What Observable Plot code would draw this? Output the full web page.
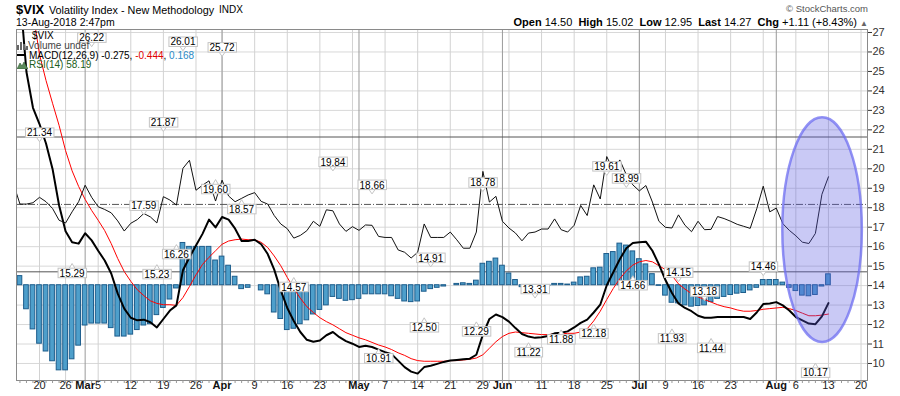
<!DOCTYPE html>
<html><head><meta charset="utf-8">
<script src="https://cdn.jsdelivr.net/npm/d3@7"></script>
<script src="https://cdn.jsdelivr.net/npm/@observablehq/plot@0.6"></script>
<style>
body{margin:0;background:#fff;font-family:"Liberation Sans",Arial,sans-serif;color:#000;}
#wrap{position:relative;width:900px;height:396px;overflow:hidden;background:#fff;}
#chart{position:absolute;left:0;top:0;}
#chart svg{display:block;}
.abs{position:absolute;white-space:nowrap;line-height:1;z-index:2;}
</style></head><body>
<div id="wrap">
  <div id="chart"></div>
  <div class="abs" style="left:16px;top:3px;font-size:13px;font-weight:bold">$VIX</div>
  <div class="abs" style="left:49px;top:4.5px;font-size:10.8px">Volatility Index - New Methodology</div>
  <div class="abs" style="left:219px;top:5px;font-size:10px">INDX</div>
  <div class="abs" style="left:16px;top:16.5px;font-size:10.5px">13-Aug-2018 2:47pm</div>
  <div class="abs" style="right:32px;top:4px;font-size:9.5px;color:#555">&#169; StockCharts.com</div>
  <div class="abs" style="right:32px;top:17px;font-size:11px"><b>Open</b> 14.50&nbsp; <b>High</b> 15.02&nbsp; <b>Low</b> 12.95&nbsp; <b>Last</b> 14.27&nbsp; <b>Chg</b> +1.11 (+8.43%) <span style="color:#666;font-size:8px">&#9650;</span></div>
  <div class="abs" style="left:32px;top:31px;font-size:10px">$VIX</div>
  <svg class="abs" style="left:17px;top:41px" width="11" height="9"><rect x="0" y="4" width="2" height="5" fill="#666"/><rect x="3" y="1" width="2" height="8" fill="#666"/><rect x="6" y="3" width="2" height="6" fill="#666"/><rect x="9" y="5" width="2" height="4" fill="#666"/></svg>
  <div class="abs" style="left:28px;top:41px;font-size:10px;color:#444">Volume undef</div>
  <svg class="abs" style="left:17px;top:53px" width="10" height="4"><rect x="0" y="1" width="9" height="2" fill="#000"/></svg>
  <div class="abs" style="left:29px;top:50.5px;font-size:10px">MACD(12,26,9) -0.275, <span style="color:#e00000">-0.444</span>, <span style="color:#2b8ac6">0.168</span></div>
  <svg class="abs" style="left:17px;top:61px" width="11" height="8"><path d="M0 8 L3 2 L5 5 L7 1 L11 8 Z" fill="#5b8a5b" stroke="#2d5a2d" stroke-width="0.6"/></svg>
  <div class="abs" style="left:29px;top:60px;font-size:10px;color:#1b5e20">RSI(14) 58.19</div>
</div>
<script>
// Trading-day index: 0 = Tue 20-Feb-2018 (one step per trading day)
const firstIdx = -4;
const rsi = [
 56.2, 50.1, 50.1, 50.5, 52.1, 50.8, 48.8, 45.3, 44.5, 47.8,
 50.8, 55.7, 52.1, 49.3, 48.5, 47.5, 45.1, 42.1, 44.4, 45.5,
 47.3, 46.3, 44.5, 52.3, 51.3, 49.8, 60.7, 63.1, 54.2, 55.7,
 57.0, 51.0, 57.2, 52.5, 50.8, 51.8, 52.8, 53.5, 50.9, 50.1,
 46.7, 44.2, 42.8, 40.0, 40.8, 42.2, 45.0, 43.5, 48.4, 48.1,
 44.2, 42.0, 43.4, 42.3, 43.9, 43.8, 40.5, 40.2, 40.2, 36.5,
 35.8, 34.1, 35.8, 44.2, 40.2, 40.2, 40.2, 41.8, 39.5, 37.0,
 37.0, 41.8, 59.8, 50.7, 52.4, 45.0, 43.0, 41.5, 39.2, 41.5,
 41.8, 42.7, 42.7, 45.7, 42.5, 41.8, 43.8, 49.7, 46.7, 55.8,
 51.6, 64.2, 60.2, 63.2, 58.8, 55.8, 54.0, 55.6, 50.7, 45.0,
 43.2, 43.0, 46.9, 43.8, 41.9, 45.0, 42.5, 42.6, 46.4, 45.8,
 45.0, 44.1, 43.5, 42.9, 48.7, 55.4, 47.8, 48.9, 44.3, 42.3,
 40.7, 38.8, 38.4, 41.4, 53.0, 58.19];
const macd = [
 5.2, 4.5, 3.28, 2.73, 2.48, 2.18, 1.79, 1.23, 0.83, 0.66,
 0.64, 0.80, 0.69, 0.53, 0.38, 0.18, -0.13, -0.36, -0.50, -0.54,
 -0.53, -0.57, -0.65, -0.52, -0.39, -0.31, 0.23, 0.43, 0.61, 0.79,
 1.01, 0.89, 1.05, 1.01, 0.87, 0.68, 0.68, 0.70, 0.63, 0.48,
 0.24, -0.08, -0.35, -0.55, -0.72, -0.84, -0.87, -0.85, -0.77, -0.72,
 -0.80, -0.86, -0.90, -0.95, -0.93, -0.95, -0.99, -1.03, -1.06, -1.16,
 -1.26, -1.33, -1.36, -1.26, -1.24, -1.21, -1.18, -1.16, -1.15, -1.14,
 -1.13, -1.07, -0.76, -0.52, -0.45, -0.49, -0.56, -0.66, -0.75, -0.79,
 -0.81, -0.80, -0.78, -0.74, -0.73, -0.71, -0.65, -0.58, -0.53, -0.42,
 -0.30, 0.00, 0.20, 0.40, 0.57, 0.65, 0.66, 0.67, 0.53, 0.32,
 0.08, -0.12, -0.28, -0.35, -0.40, -0.47, -0.50, -0.50, -0.49, -0.49,
 -0.49, -0.49, -0.49, -0.52, -0.42, -0.29, -0.28, -0.26, -0.31, -0.39,
 -0.49, -0.54, -0.59, -0.60, -0.48, -0.275];
const signal = [
 5.2, 4.9, 4.55, 4.2, 3.55, 3.15, 2.80, 2.46, 2.07, 1.76,
 1.52, 1.32, 1.15, 1.00, 0.84, 0.64, 0.41, 0.21, 0.06, -0.07,
 -0.16, -0.24, -0.28, -0.30, -0.30, -0.31, -0.19, -0.02, 0.16, 0.32,
 0.43, 0.53, 0.63, 0.68, 0.70, 0.71, 0.70, 0.70, 0.66, 0.58,
 0.45, 0.30, 0.12, -0.05, -0.20, -0.33, -0.42, -0.50, -0.56, -0.61,
 -0.67, -0.73, -0.77, -0.81, -0.84, -0.88, -0.92, -0.95, -0.99, -1.04,
 -1.08, -1.13, -1.16, -1.17, -1.17, -1.17, -1.17, -1.16, -1.16, -1.15,
 -1.14, -1.12, -1.07, -0.97, -0.87, -0.79, -0.74, -0.72, -0.73, -0.74,
 -0.75, -0.76, -0.76, -0.75, -0.75, -0.74, -0.74, -0.72, -0.67, -0.55,
 -0.40, -0.22, -0.05, 0.10, 0.22, 0.31, 0.36, 0.38, 0.36, 0.30,
 0.24, 0.15, 0.02, -0.06, -0.13, -0.18, -0.22, -0.26, -0.30, -0.33,
 -0.35, -0.38, -0.40, -0.40, -0.39, -0.37, -0.36, -0.35, -0.34, -0.36,
 -0.39, -0.43, -0.47, -0.47, -0.46, -0.444];
const histStart = -3;
const hist = [
 0.14, -0.37, -0.68, -0.90, -1.02, -1.17, -1.31, -1.31, -1.14, -0.93,
 -0.62, -0.59, -0.59, -0.59, -0.66, -0.79, -0.79, -0.76, -0.69, -0.62,
 -0.60, -0.46, -0.35, -0.22, -0.05, 0.65, 0.59, 0.59, 0.59, 0.59,
 0.38, 0.44, 0.30, 0.13, -0.06, -0.04, 0.00, -0.08, -0.14, -0.42,
 -0.52, -0.69, -0.67, -0.60, -0.54, -0.45, -0.38, -0.31, -0.18, -0.21,
 -0.24, -0.23, -0.21, -0.14, -0.14, -0.14, -0.14, -0.17, -0.21, -0.25,
 -0.26, -0.25, -0.10, -0.06, -0.04, -0.02, 0.00, 0.02, 0.03, 0.02,
 0.07, 0.33, 0.36, 0.41, 0.30, 0.18, 0.08, -0.03, -0.03, -0.02,
 0.00, -0.01, 0.02, 0.02, 0.01, 0.04, 0.12, 0.13, 0.26, 0.27,
 0.48, 0.51, 0.64, 0.61, 0.52, 0.40, 0.32, 0.17, -0.01, -0.16,
 -0.27, -0.28, -0.31, -0.33, -0.32, -0.31, -0.26, -0.21, -0.18, -0.15,
 -0.13, -0.12, -0.08, -0.04, 0.08, 0.08, 0.08, 0.04, -0.04, -0.09,
 -0.16, -0.17, -0.15, -0.02, 0.168];
const rsiLevels = [70, 30];
const rsiMidLevel = [50];

// price high/low annotations
const annVal  = [26.22, 26.01, 25.72, 21.34, 21.87, 17.59, 15.29, 15.23, 16.26, 19.60, 18.57, 14.57, 19.84, 18.66, 14.91, 12.50, 10.91, 18.78, 12.29, 13.31, 11.22, 11.88, 12.18, 19.61, 18.99, 14.66, 14.15, 11.93, 13.18, 11.44, 14.46, 10.17];
const annIdx  = [8, 22, 28, 0, 19, 16, 5, 18, 21, 27, 31, 39, 45, 51, 60, 59, 52, 68, 67, 76, 75, 80, 85, 87, 90, 91, 98, 97, 102, 103, 111, 119];
const annKind = ["H","H","H","H","H","H","L","L","L","L","L","L","H","H","H","L","L","H","L","H","L","L","L","H","H","L","H","L","H","L","H","L"];

// x axis labels
const dayLabelIdx = [0, 4, 9, 14, 19, 24, 33, 38, 43, 53, 58, 63, 68, 77, 82, 87, 96, 101, 106, 116, 121, 126];
const dayLabels   = ["20","26","5","12","19","26","9","16","23","7","14","21","29","11","18","25","9","16","23","6","13","20"];
const monthIdx    = [7, 28, 49, 71, 92, 113];
const monthLabels = ["Mar","Apr","May","Jun","Jul","Aug"];
const weekIdx     = [0, 4, 9, 14, 19, 24, 28, 33, 38, 43, 48, 53, 58, 63, 68, 72, 77, 82, 87, 92, 96, 101, 106, 111, 116, 121, 126];
const yTicks = [10,11,12,13,14,15,16,17,18,19,20,21,22,23,24,25,26,27];

// highlighted region (ellipse) in data coordinates
const ellipseBox = {i1: 114.0, i2: 126.2, v1: 11.08, v2: 22.62};

// overlay mapping of indicator panes onto the price axis
const rsiMid = 18.17, rsiK = 0.1731, macdZero = 14.02, macdK = 3.338;
const rAx = r => rsiMid + (r - 50) * rsiK;
const mAx = m => macdZero + m * macdK;

const rows = rsi.map((r, k) => ({i: firstIdx + k, rsi: rAx(r), macd: mAx(macd[k]), sig: mAx(signal[k])}));
const bars = hist.map((h, k) => ({i: histStart + k, h: mAx(h)}));
const ann = annVal.map((v, k) => ({i: annIdx[k], v, kind: annKind[k]}));
const annH = ann.filter(d => d.kind === "H"), annL = ann.filter(d => d.kind === "L");
const dayTicks = dayLabelIdx.map((i, k) => ({i, label: dayLabels[k]}));
const monTicks = monthIdx.map((i, k) => ({i, label: monthLabels[k]}));
const allDays = d3.range(-3, 127);

const triDown = {draw(ctx) { ctx.moveTo(-3.5, -5); ctx.lineTo(3.5, -5); ctx.lineTo(0, 0); ctx.closePath(); }};
const triUp = {draw(ctx) { ctx.moveTo(-3.5, 6); ctx.lineTo(3.5, 6); ctx.lineTo(0, 0); ctx.closePath(); }};
const tickSym = {draw(ctx) { ctx.moveTo(0, 0); ctx.lineTo(0, 2.5); }};

const chart = Plot.plot({
  width: 900, height: 396,
  marginTop: 29, marginBottom: 16, marginLeft: 16, marginRight: 33,
  style: {fontFamily: "Liberation Sans, Arial, sans-serif", fontSize: "11px", color: "#333", background: "#fff"},
  x: {domain: [-3.528, 126.99], axis: null},
  y: {domain: [9.126, 27.154], axis: "right", ticks: yTicks, tickSize: 4, tickPadding: 1, label: null, tickFormat: d => String(d)},
  marks: [
    Plot.ruleY(yTicks, {stroke: "#d8d8d8"}),
    Plot.ruleX(weekIdx, {stroke: "#d2d2d2"}),
    Plot.ruleX(monthIdx, {stroke: "#9a9a9a"}),
    Plot.ruleY(rsiLevels, {y: rAx, stroke: "#555"}),
    Plot.ruleY(rsiMidLevel, {y: rAx, stroke: "#555", strokeDasharray: "7,2,1,2"}),
    Plot.rect(bars, {x1: d => d.i - 0.36, x2: d => d.i + 0.36, y1: () => macdZero, y2: "h", fill: "#4e9fcb", stroke: "#1d5d8c", strokeWidth: 1, clip: true}),
    Plot.line(rows, {x: "i", y: "sig", stroke: "#ff0000", strokeWidth: 1, clip: true}),
    Plot.line(rows, {x: "i", y: "macd", stroke: "#000", strokeWidth: 2, clip: true}),
    Plot.line(rows, {x: "i", y: "rsi", stroke: "#111", strokeWidth: 1, clip: true}),
    Plot.dot(annH, {x: "i", y: "v", symbol: triDown, dy: -1, fill: "#fff", stroke: "#c4c4c4", strokeWidth: 1}),
    Plot.dot(annL, {x: "i", y: "v", symbol: triUp, dy: 3, fill: "#fff", stroke: "#c4c4c4", strokeWidth: 1}),
    Plot.text(annH, {x: "i", y: "v", text: d => d.v.toFixed(2), dy: -9.5, fontSize: 10, fill: "#000"}),
    Plot.text(annL, {x: "i", y: "v", text: d => d.v.toFixed(2), dy: 13, fontSize: 10, fill: "#000"}),
    Plot.frame({stroke: "#8a8a8a"}),
    Plot.dot(allDays, {x: d => d, frameAnchor: "bottom", symbol: tickSym, fill: "none", stroke: "#999", strokeWidth: 1}),
    Plot.text(dayTicks, {x: "i", text: "label", frameAnchor: "bottom", dy: 8.5, fontSize: 11, fill: "#222"}),
    Plot.text(monTicks, {x: "i", text: "label", frameAnchor: "bottom", dy: 8.5, fontSize: 11, fontWeight: "bold", fill: "#111"})
  ]
});
document.getElementById("chart").appendChild(chart);

// boxes behind the price annotation labels (texts like "26.22")
const NS = "http://www.w3.org/2000/svg";
Array.from(chart.querySelectorAll("text")).filter(t => /^\d+\.\d\d$/.test(t.textContent.trim())).forEach(t => {
  const b = t.getBBox();
  const r = document.createElementNS(NS, "rect");
  r.setAttribute("x", b.x - 1.5); r.setAttribute("y", b.y + 0.5);
  r.setAttribute("width", b.width + 3); r.setAttribute("height", b.height - 1.5);
  r.setAttribute("fill", "#fff"); r.setAttribute("stroke", "#c4c4c4");
  if (t.getAttribute("transform")) r.setAttribute("transform", t.getAttribute("transform"));
  t.parentNode.insertBefore(r, t);
});

// highlight ellipse, positioned through the chart's own scales
const xsc = chart.scale("x"), ysc = chart.scale("y");
const sx = d3.scaleLinear(xsc.domain, xsc.range), sy = d3.scaleLinear(ysc.domain, ysc.range);
const e = document.createElementNS(NS, "ellipse");
e.setAttribute("cx", (sx(ellipseBox.i1) + sx(ellipseBox.i2)) / 2);
e.setAttribute("cy", (sy(ellipseBox.v1) + sy(ellipseBox.v2)) / 2);
e.setAttribute("rx", Math.abs(sx(ellipseBox.i2) - sx(ellipseBox.i1)) / 2);
e.setAttribute("ry", Math.abs(sy(ellipseBox.v2) - sy(ellipseBox.v1)) / 2);
e.setAttribute("fill", "rgba(90,90,225,0.33)");
e.setAttribute("stroke", "rgba(110,110,240,0.75)");
e.setAttribute("stroke-width", "2.5");
chart.appendChild(e);
</script>
</body></html>
